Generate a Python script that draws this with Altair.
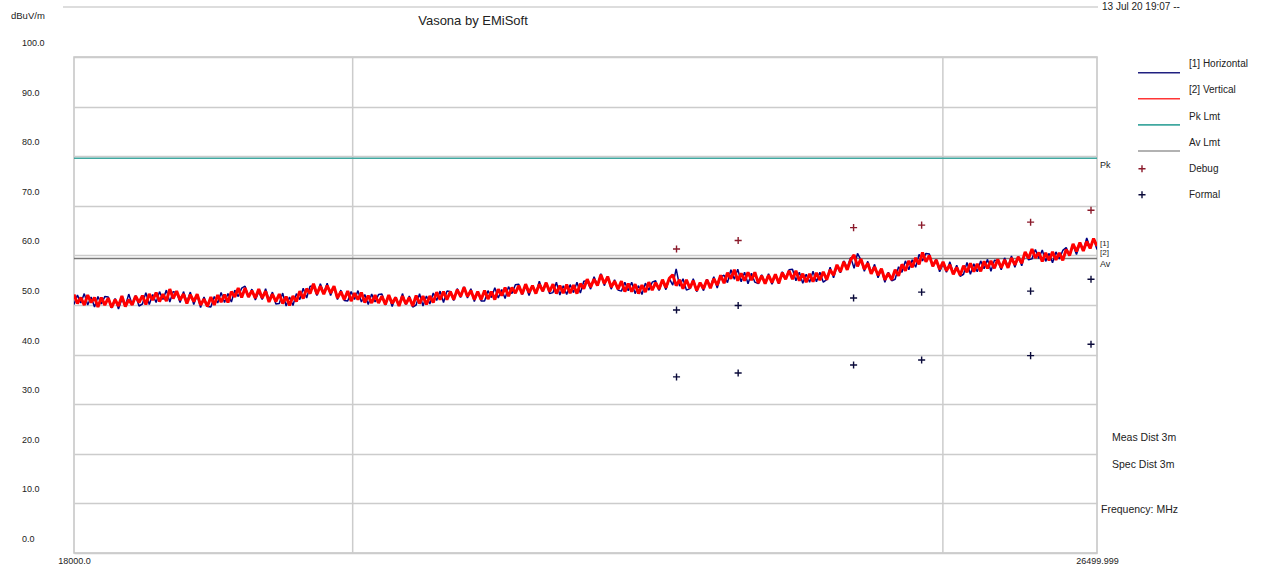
import altair as alt
import numpy as np
import pandas as pd

FONT = "Liberation Sans"

# ---- sweep definition (MHz) ----
f_start = 18000.0
f_stop = 26499.999

# [1] Horizontal trace, dBuV/m, one value per sweep point
horizontal = [
    50.1, 52.0, 50.4, 52.3, 50.0, 51.6, 49.6, 51.7, 50.2, 51.7,
    51.6, 49.4, 51.3, 49.2, 51.2, 49.8, 52.2, 50.1, 51.9, 49.8,
    50.2, 52.5, 50.1, 52.1, 50.5, 52.7, 51.1, 53.0, 50.6, 52.7,
    52.5, 50.5, 52.7, 50.6, 52.6, 50.1, 52.0, 49.5, 51.6, 49.7,
    49.6, 51.7, 50.4, 52.5, 50.5, 52.3, 50.6, 53.0, 51.7, 53.4,
    53.8, 51.6, 53.2, 51.0, 52.7, 51.1, 53.3, 51.0, 52.6, 50.2,
    50.3, 52.4, 49.8, 51.6, 49.9, 52.3, 51.1, 53.4, 51.4, 53.8,
    53.8, 51.9, 54.3, 52.4, 54.4, 51.9, 53.7, 51.1, 53.0, 50.9,
    50.8, 52.7, 51.1, 52.9, 50.6, 52.1, 50.1, 52.2, 50.6, 52.1,
    52.2, 50.0, 51.8, 49.7, 51.6, 50.0, 52.3, 50.1, 51.8, 49.6,
    50.0, 52.3, 49.8, 51.8, 50.2, 52.4, 50.9, 52.8, 50.5, 52.8,
    52.7, 50.9, 53.3, 51.5, 53.7, 51.4, 53.3, 50.7, 52.7, 50.8,
    50.8, 52.9, 51.5, 53.5, 51.4, 53.1, 51.3, 53.7, 52.3, 54.1,
    54.2, 52.1, 53.9, 51.9, 53.9, 52.4, 54.8, 52.7, 54.5, 52.3,
    52.5, 54.6, 52.0, 53.9, 52.1, 54.1, 52.5, 54.6, 52.4, 54.8,
    54.9, 53.2, 55.7, 54.0, 56.3, 53.9, 55.8, 53.2, 55.1, 53.0,
    52.8, 54.6, 52.9, 54.6, 52.3, 53.9, 52.1, 54.4, 53.0, 54.6,
    54.9, 52.9, 54.9, 53.1, 55.3, 54.0, 57.3, 53.8, 55.3, 53.0,
    53.3, 55.3, 52.7, 54.5, 52.9, 55.2, 53.7, 55.7, 53.4, 55.7,
    56.0, 54.5, 57.1, 55.2, 57.2, 54.7, 56.6, 54.3, 56.4, 54.6,
    54.3, 56.1, 54.5, 56.3, 54.2, 56.0, 54.3, 56.7, 55.4, 57.1,
    57.2, 54.9, 56.6, 54.4, 56.2, 54.6, 56.8, 54.7, 56.6, 54.6,
    55.1, 57.6, 55.5, 57.8, 56.5, 58.9, 57.5, 59.6, 57.4, 60.4,
    59.1, 56.8, 58.8, 56.5, 58.2, 55.5, 57.2, 54.6, 56.6, 54.9,
    55.2, 57.7, 56.6, 58.9, 57.1, 59.1, 57.6, 60.2, 58.9, 60.4,
    60.3, 57.8, 59.2, 56.7, 58.3, 56.6, 58.7, 56.4, 58.0, 55.8,
    56.2, 58.6, 56.2, 58.3, 56.7, 58.9, 57.3, 59.2, 56.8, 59.0,
    58.9, 57.1, 59.5, 57.7, 59.9, 57.6, 59.8, 57.9, 60.5, 59.1,
    59.3, 61.2, 59.4, 61.1, 58.8, 60.4, 58.5, 60.7, 59.3, 61.0,
    61.6, 59.9, 62.1, 60.2, 62.3, 61.0, 63.5, 61.5, 63.3, 61.2,
]

# [2] Vertical trace, dBuV/m
vertical = [
    52.1, 50.3, 51.5, 50.0, 52.0, 50.5, 51.5, 49.6, 51.5, 50.0,
    51.4, 49.5, 51.1, 49.8, 51.8, 49.7, 51.1, 50.0, 51.8, 50.5,
    51.9, 50.1, 52.2, 51.0, 52.5, 50.7, 52.2, 50.8, 53.2, 51.3,
    52.8, 51.0, 52.2, 50.3, 52.1, 50.7, 52.2, 50.0, 51.2, 49.7,
    51.6, 50.0, 52.0, 50.6, 52.1, 50.5, 52.7, 51.6, 53.4, 51.5,
    53.4, 51.6, 52.9, 51.4, 53.2, 51.4, 52.8, 50.6, 52.2, 50.7,
    52.2, 50.3, 51.7, 49.9, 51.8, 50.7, 52.8, 51.3, 53.3, 52.3,
    54.3, 52.2, 53.8, 52.2, 53.9, 52.4, 53.8, 51.4, 52.7, 51.1,
    52.8, 50.8, 52.4, 51.1, 52.5, 50.5, 51.9, 50.4, 52.0, 50.4,
    51.8, 50.1, 52.0, 50.3, 51.5, 49.8, 51.8, 50.2, 51.5, 49.8,
    51.9, 50.3, 51.8, 50.1, 51.8, 50.5, 52.6, 51.1, 52.7, 51.1,
    52.7, 51.1, 53.1, 51.7, 53.6, 51.7, 52.9, 51.1, 52.7, 51.1,
    52.9, 51.2, 52.7, 51.1, 53.2, 51.9, 53.5, 51.8, 53.5, 52.4,
    53.9, 52.2, 54.2, 52.5, 53.9, 52.3, 54.2, 52.8, 54.5, 52.7,
    54.2, 52.3, 53.9, 52.4, 54.1, 52.4, 54.0, 52.3, 54.3, 53.3,
    55.2, 53.6, 55.2, 53.9, 56.1, 54.3, 55.7, 53.6, 54.8, 53.2,
    54.8, 52.7, 54.3, 52.7, 54.2, 52.3, 54.0, 52.6, 54.6, 53.0,
    54.5, 53.2, 55.1, 53.5, 55.4, 56.1, 53.9, 55.1, 53.3, 55.1,
    53.4, 54.9, 52.9, 54.5, 53.3, 55.1, 53.4, 55.3, 54.0, 56.0,
    54.4, 56.5, 55.3, 57.1, 54.9, 56.4, 54.9, 56.6, 55.0, 56.6,
    54.4, 55.9, 54.3, 56.0, 54.5, 56.2, 54.4, 56.5, 55.2, 56.9,
    55.2, 56.9, 54.9, 56.3, 54.6, 56.3, 54.7, 56.5, 55.0, 56.7,
    55.1, 57.1, 56.0, 58.1, 56.7, 58.7, 57.1, 59.1, 60.1, 57.8,
    59.3, 57.2, 58.4, 56.3, 57.7, 56.0, 57.3, 55.1, 56.4, 55.1,
    57.1, 55.9, 58.2, 56.9, 58.9, 57.6, 59.5, 58.2, 60.6, 58.7,
    60.0, 57.8, 59.1, 57.2, 58.7, 56.9, 58.1, 56.2, 57.6, 56.0,
    57.9, 56.6, 58.4, 56.7, 58.3, 56.8, 58.8, 57.4, 58.9, 57.4,
    59.2, 57.5, 59.1, 57.5, 59.5, 58.1, 59.7, 58.4, 60.7, 59.4,
    61.3, 59.5, 60.6, 58.8, 60.5, 59.0, 60.7, 59.1, 60.5, 59.0,
    61.2, 60.0, 62.3, 60.8, 62.6, 60.9, 62.8, 61.4, 63.4, 61.9,
]

# limit lines (dBuV/m)
pk_limit = 79.6
av_limit = 59.4

# debug / formal readings
debug_freq = [22605, 23138, 24170, 24800, 25843, 26440]
debug_level = [61.3, 63.0, 65.6, 66.1, 66.7, 69.1]
formal_freq = [22605, 23138, 24170, 24800, 25843, 26440,
               22605, 23138, 24170, 24800, 25843, 26440]
formal_level = [49.0, 49.9, 51.4, 52.6, 52.8, 55.2,
                35.5, 36.3, 37.9, 38.9, 39.8, 42.1]

# axes
grid_freq = [20000, 25000]
y_ticks = list(range(0, 101, 10))
x_label_values = [f_start, f_stop]

legend_labels = ["[1] Horizontal", "[2] Vertical", "Pk Lmt", "Av Lmt", "Debug", "Formal"]

# ---- styling ----
NAVY = "#000080"
RED = "#ff0000"
TEAL = "#40a8a0"
AV_GRAY = "#777777"
DEBUG_C = "#8b1a2b"
FORMAL_C = "#0a0a3a"
GRID = "#cccccc"
TXT = "#222222"
PLUS = "M-1,0L1,0M0,-1L0,1"

W, H = 1023, 496
LEFT, TOP = 74, 57

x_scale = alt.Scale(type="log", domain=[f_start, f_stop], nice=False)
y_scale = alt.Scale(domain=[0, 100], nice=False, zero=False)

x_axis = alt.Axis(
    values=x_label_values, title=None, grid=False, ticks=False, domain=False,
    labelFlush=False, labelOverlap=False, labelBound=False,
    labelExpr="datum.value < 20000 ? format(datum.value, '.1f') : format(datum.value, '.3f')",
    labelFont=FONT, labelFontSize=9, labelColor=TXT, labelPadding=3,
)
y_axis = alt.Axis(
    values=y_ticks, format=".1f", title=None, grid=True, gridColor=GRID, gridWidth=1.5,
    ticks=False, tickSize=0, domain=False, labelAlign="left", labelBaseline="middle",
    labelPadding=52.5, labelOffset=-14.5, labelFont=FONT, labelFontSize=9, labelColor=TXT,
)

h_df = pd.DataFrame({"freq": np.geomspace(f_start, f_stop, len(horizontal)), "level": horizontal})
v_df = pd.DataFrame({"freq": np.geomspace(f_start, f_stop, len(vertical)), "level": vertical})

X = alt.X("freq:Q", scale=x_scale, axis=x_axis)
Y = alt.Y("level:Q", scale=y_scale, axis=y_axis)

# measured traces: thin navy under a heavier red
blue = alt.Chart(h_df).mark_line(
    color=NAVY, strokeWidth=1.5, strokeJoin="bevel", clip=True).encode(x=X, y=Y)
red = alt.Chart(v_df).mark_line(
    color=RED, strokeWidth=3, strokeJoin="bevel", clip=True).encode(x=X, y=Y)

vgrid = alt.Chart(pd.DataFrame({"freq": grid_freq})).mark_rule(
    color=GRID, strokeWidth=1.5).encode(x=X)

pk_line = alt.Chart(pd.DataFrame({"level": [pk_limit]})).mark_rule(
    color=TEAL, strokeWidth=1.5).encode(y=Y)
av_line = alt.Chart(pd.DataFrame({"level": [av_limit]})).mark_rule(
    color=AV_GRAY, strokeWidth=1.5).encode(y=Y)

debug_pts = alt.Chart(pd.DataFrame({"freq": debug_freq, "level": debug_level})).mark_point(
    shape=PLUS, filled=False, size=50, strokeWidth=1.4, color=DEBUG_C, opacity=1).encode(x=X, y=Y)
formal_pts = alt.Chart(pd.DataFrame({"freq": formal_freq, "level": formal_level})).mark_point(
    shape=PLUS, filled=False, size=50, strokeWidth=1.4, color=FORMAL_C, opacity=1).encode(x=X, y=Y)


def text(t, x, y, size=10, align="left", color=TXT):
    """Text placed in page pixels."""
    return alt.Chart(pd.DataFrame({"t": [t]})).mark_text(
        align=align, baseline="middle", font=FONT, fontSize=size, color=color
    ).encode(x=alt.value(x - LEFT), y=alt.value(y - TOP), text="t:N")


def hline(x1, x2, y, color, width=1.5):
    return alt.Chart(pd.DataFrame({"k": [0]})).mark_rule(color=color, strokeWidth=width).encode(
        x=alt.value(x1 - LEFT), x2=alt.value(x2 - LEFT), y=alt.value(y - TOP))


def plus(x, y, color):
    return alt.Chart(pd.DataFrame({"k": [0]})).mark_point(
        shape=PLUS, filled=False, size=50, strokeWidth=1.4, color=color, opacity=1
    ).encode(x=alt.value(x - LEFT), y=alt.value(y - TOP))


decor = [
    hline(63, 1098, 7, "#bbbbbb", 1.2),
    text("13 Jul 20 19:07 --", 1102, 7, size=10),
    text("Vasona by EMiSoft", 473, 21, size=13, align="center"),
    text("dBuV/m", 11, 16, size=9.5),
    text("Pk", 1100, 165, size=9),
    text("[1]", 1100, 244, size=8),
    text("[2]", 1100, 253, size=8),
    text("Av", 1100, 264, size=9),
    text("Meas Dist 3m", 1112, 438, size=10.5),
    text("Spec Dist 3m", 1112, 465, size=10.5),
    text("Frequency: MHz", 1101, 510, size=10.5),
]

# legend
legend_styles = [("line", "#202080"), ("line", "#ff3535"), ("line", TEAL),
                 ("line", "#999999"), ("plus", DEBUG_C), ("plus", FORMAL_C)]
for i, (label, (kind, col)) in enumerate(zip(legend_labels, legend_styles)):
    ly = 64.3 + 26.1 * i
    decor.append(text(label, 1189, ly, size=10))
    if kind == "line":
        decor.append(hline(1138, 1180, ly + 8.4, col, 1.6))
    else:
        decor.append(plus(1142, ly, col))

chart = alt.layer(
    vgrid, av_line, pk_line, blue, red, debug_pts, formal_pts, *decor
).properties(
    width=W, height=H,
    padding={"left": LEFT, "top": TOP, "right": 1265 - LEFT - W, "bottom": 567 - TOP - H},
    autosize=alt.AutoSizeParams(type="none"),
    background="white",
).configure_view(stroke="#c4c4c4", strokeWidth=1.5)

chart.save("out.html", embed_options={"renderer": "svg", "actions": False})
